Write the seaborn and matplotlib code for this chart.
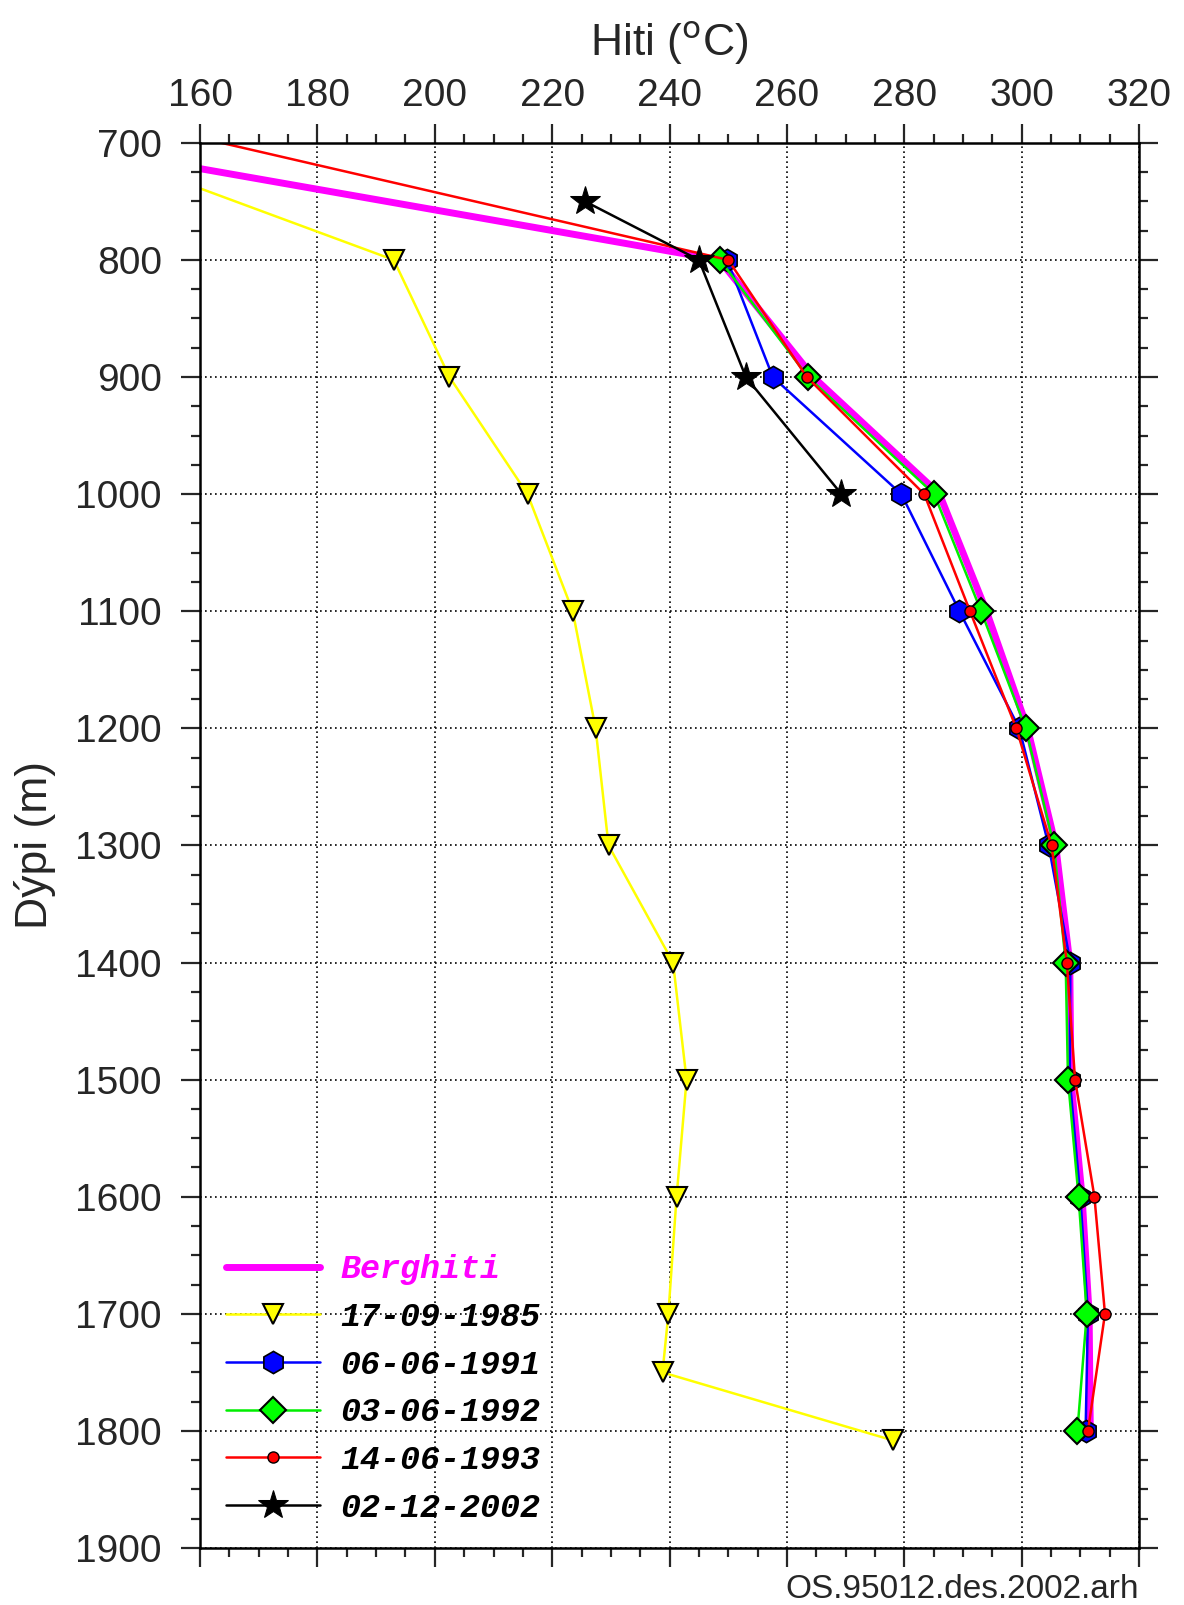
import numpy as np
import pandas as pd
import matplotlib
matplotlib.use('Agg')
import matplotlib.pyplot as plt
import seaborn as sns
from matplotlib.ticker import MultipleLocator

# depth (m) and temperature (degC)
berg_depth = [700, 800, 900, 1000, 1100, 1200, 1300, 1400, 1500, 1600, 1700, 1800]
berg_temp = [135, 248.5, 264.5, 286.0, 294.0, 301.0, 305.8, 308.2, 308.4, 310.3, 311.5, 311.7]

d1985 = [700, 800, 900, 1000, 1100, 1200, 1300, 1400, 1500, 1600, 1700, 1750, 1808]
t1985 = [139, 193.0, 202.5, 215.8, 223.5, 227.4, 229.6, 240.6, 242.9, 241.2, 239.8, 238.8, 278.0]

d1991 = [800, 900, 1000, 1100, 1200, 1300, 1400, 1500, 1600, 1700, 1800]
t1991 = [249.8, 257.6, 279.5, 289.4, 299.6, 304.6, 308.3, 308.2, 310.0, 311.3, 310.9]

d1992 = [800, 900, 1000, 1100, 1200, 1300, 1400, 1500, 1600, 1700, 1800]
t1992 = [248.6, 263.6, 285.1, 293.1, 300.7, 305.5, 307.5, 307.9, 309.7, 311.1, 309.5]

d1993 = [690, 800, 900, 1000, 1100, 1200, 1300, 1400, 1500, 1600, 1700, 1800]
t1993 = [155, 250.0, 263.4, 283.4, 291.2, 299.1, 305.1, 307.7, 309.1, 312.4, 314.2, 311.3]

d2002 = [750, 800, 900, 1000]
t2002 = [225.6, 245.0, 253.0, 269.3]

labels = ['Berghiti', '17-09-1985', '06-06-1991', '03-06-1992', '14-06-1993', '02-12-2002']

sns.set_style('white')
plt.rcParams['font.family'] = ['Liberation Sans', 'DejaVu Sans']

fig = plt.figure(figsize=(11.84, 16.05), dpi=100)
ax = fig.add_axes([0.169, 0.0355, 0.793, 0.8755])

series = [
    (berg_temp, berg_depth, dict(color='#ff00ff', lw=5, marker=None)),
    (t1985, d1985, dict(color='#ffff00', lw=1.8, marker='v', markersize=15,
                        markerfacecolor='#ffff00', markeredgecolor='black', markeredgewidth=1.5)),
    (t1991, d1991, dict(color='#0000ff', lw=1.8, marker='h', markersize=16,
                        markerfacecolor='#0000ff', markeredgecolor='black', markeredgewidth=1.2)),
    (t1992, d1992, dict(color='#00ee00', lw=1.8, marker='D', markersize=13,
                        markerfacecolor='#00ff00', markeredgecolor='black', markeredgewidth=1.5)),
    (t1993, d1993, dict(color='#ff0000', lw=1.8, marker='o', markersize=8,
                        markerfacecolor='#ff0000', markeredgecolor='black', markeredgewidth=1.0)),
    (t2002, d2002, dict(color='black', lw=1.8, marker='*', markersize=22,
                        markerfacecolor='black', markeredgecolor='black')),
]

for (t, d, kw), lab in zip(series, labels):
    df = pd.DataFrame({'temp': t, 'depth': d})
    sns.lineplot(data=df, x='temp', y='depth', sort=False, estimator=None,
                 ax=ax, label=lab, **kw)

ax.set_xlim(160, 320)
ax.set_ylim(1900, 700)
ax.xaxis.set_major_locator(MultipleLocator(20))
ax.xaxis.set_minor_locator(MultipleLocator(5))
ax.yaxis.set_major_locator(MultipleLocator(100))
ax.yaxis.set_minor_locator(MultipleLocator(25))

ax.tick_params(axis='x', which='both', top=True, bottom=True,
               labeltop=True, labelbottom=False, direction='out')
ax.tick_params(axis='y', which='both', left=True, right=True,
               labelleft=True, labelright=False, direction='out')
ax.tick_params(which='major', length=13.5, width=1.6, labelsize=28)
ax.tick_params(axis='x', which='major', pad=7)
ax.tick_params(axis='y', which='major', pad=14)
ax.tick_params(which='minor', length=6.5, width=1.6)

ax.grid(True, which='major', color='black', linestyle=(0, (1, 2)), lw=1.2)
for s in ax.spines.values():
    s.set_color('black')
    s.set_linewidth(1.8)

ax.xaxis.set_label_position('top')
ax.set_xlabel('Hiti ($^{\\mathrm{o}}$C)', fontsize=32, labelpad=16)
ax.set_ylabel('Dýpi (m)', fontsize=32, labelpad=14)

leg = ax.legend(loc='upper left', bbox_to_anchor=(0.028, 0.209), frameon=False,
                borderpad=0, borderaxespad=0, handlelength=2.8, handletextpad=0.62,
                labelspacing=0.5, numpoints=1,
                prop=dict(family='Liberation Mono', style='italic', weight='bold', size=24))
for txt in leg.get_texts():
    txt.set_color('black')
leg.get_texts()[0].set_color('#ff00ff')

fig.text(0.962, 0.0045, 'OS.95012.des.2002.arh', ha='right', va='baseline', fontsize=24)

fig.savefig('out.png', dpi=100)
